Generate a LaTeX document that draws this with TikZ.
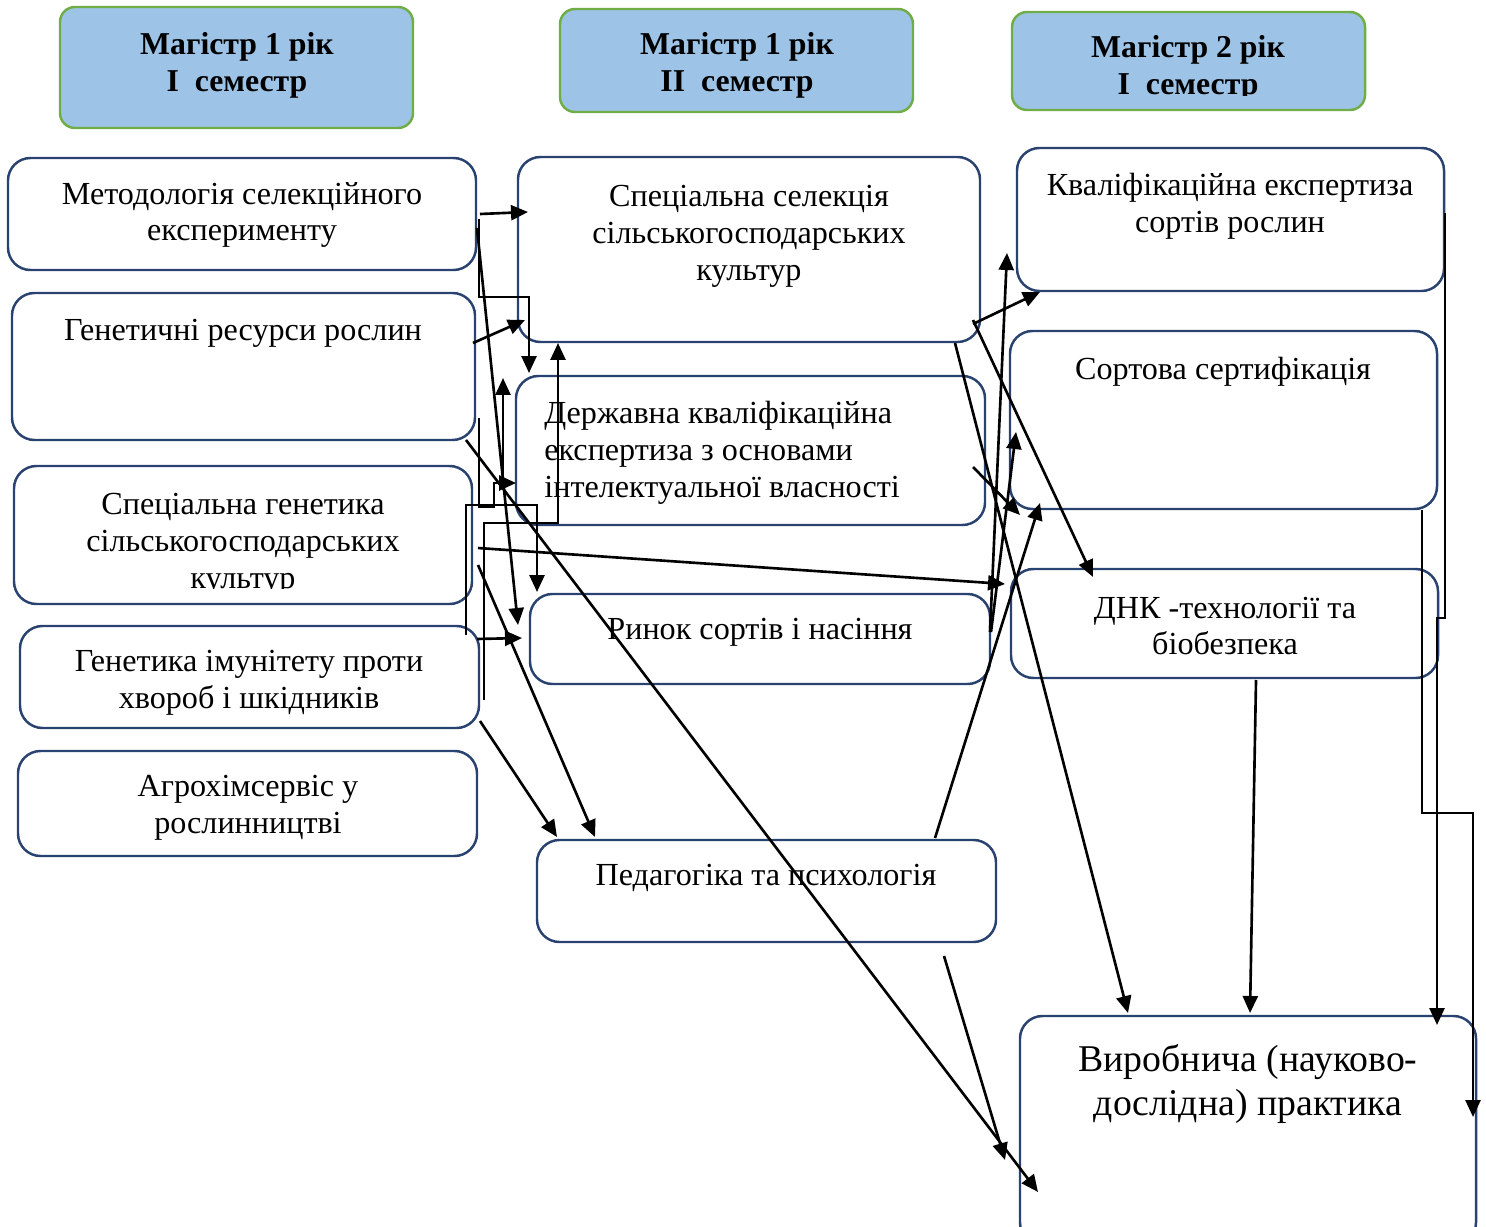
\documentclass[tikz,border=0pt]{standalone}
\usepackage{fontspec}
\setmainfont{Liberation Serif}
\usetikzlibrary{arrows.meta,fit}
\definecolor{boxblue}{RGB}{41,66,112}
\definecolor{hdrfill}{RGB}{157,195,230}
\definecolor{hdrline}{RGB}{112,173,71}
\tikzset{
 box/.style={draw=boxblue, line width=1.4pt, rounded corners=0.45cm, inner sep=0pt},
 hdr/.style={draw=hdrline, fill=hdrfill, line width=1.4pt, rounded corners=0.3cm, inner sep=0pt},
 txt/.style={font=\fontsize{18.3}{21}\selectfont, align=center, inner sep=0pt},
 bigtxt/.style={font=\fontsize{21.5}{25}\selectfont, align=center, inner sep=0pt},
 htxt/.style={font=\fontsize{18.1}{21}\selectfont\bfseries, align=center, inner sep=0pt},
 conn/.style={line width=1.5pt, -{Triangle[length=0.34cm,width=0.3cm]}},
}
\begin{document}
\begin{tikzpicture}[x=0.02cm,y=-0.02cm]
\useasboundingbox (0,0) rectangle (1486,1226);
% headers
\node[hdr, fit={(60,7) (413,128)}] (H1) {};
\node[hdr, fit={(560,9) (913,112)}] (H2) {};
\node[hdr, fit={(1012,12) (1365,110)}] (H3) {};
\node[htxt] (H1t) at (237,65) {Магістр 1 рік\\I\ \ семестр};
\node[htxt] (H2t) at (737,65) {Магістр 1 рік\\II\ \ семестр};
\begin{scope}
\clip (1012,12) rectangle (1365,96);
\node[htxt] (H3t) at (1188,68) {Магістр 2 рік\\I\ \ семестр};
\end{scope}
% column 1
\node[box, fit={(8,158) (476,270)}] (A1) {};
\node[box, fit={(12,293) (475,440)}] (A2) {};
\node[box, fit={(14,466) (472,604)}] (A3) {};
\node[box, fit={(20,626) (479,728)}] (A4) {};
\node[box, fit={(18,751) (477,856)}] (A5) {};
\node[txt] (A1t) at (242,215) {Методологія селекційного\\експерименту};
\node[txt] (A2t) at (243,333) {Генетичні ресурси рослин};
\begin{scope}
\clip (14,466) rectangle (472,588);
\node[txt] (A3t) at (243,544) {Спеціальна генетика\\сільськогосподарських\\культур};
\end{scope}
\node[txt] (A4t) at (249,683) {Генетика імунітету проти\\хвороб і шкідників};
\node[txt] (A5t) at (248,808) {Агрохімсервіс у\\рослинництві};
% column 2
\node[box, fit={(518,157) (980,342)}] (B1) {};
\node[box, fit={(516,376) (985,525)}] (B2) {};
\node[box, fit={(530,594) (990,684)}] (B3) {};
\node[box, fit={(537,840) (996,942)}] (B4) {};
\node[txt] (B1t) at (749,236) {Спеціальна селекція\\сільськогосподарських\\культур};
\node[txt, align=left, anchor=west] (B2t) at (544,453) {Державна кваліфікаційна\\експертиза з основами\\інтелектуальної власності};
\node[txt] (B3t) at (760,632) {Ринок сортів і насіння};
\node[txt] (B4t) at (766,878) {Педагогіка та психологія};
% column 3
\node[box, fit={(1017,148) (1444,291)}] (C1) {};
\node[box, fit={(1010,331) (1437,509)}] (C2) {};
\node[box, fit={(1011,569) (1438,678)}] (C3) {};
\node[box, fit={(1020,1016) (1476,1245)}] (C4) {};
\node[txt] (C1t) at (1230,206) {Кваліфікаційна експертиза\\сортів рослин};
\node[txt] (C2t) at (1223,372) {Сортова сертифікація};
\node[txt] (C3t) at (1225,626) {ДНК -технології та\\біобезпека};
\node[bigtxt] (C4t) at (1248,1084) {Виробнича (науково-\\дослідна) практика};
% connector end points
\coordinate (c1s) at (480,214);  \coordinate (c1e) at (528,212);
\coordinate (c2s) at (479,219);  \coordinate (c2e) at (529,373);
\coordinate (c3s) at (477,228);  \coordinate (c3e) at (518,625);
\coordinate (c4s) at (473,343);  \coordinate (c4e) at (525,320);
\coordinate (c5s) at (484,700);  \coordinate (c5e) at (558,343);
\coordinate (c6s) at (479,418);  \coordinate (c6e) at (516,483);
\coordinate (c7s) at (503,483);  \coordinate (c7e) at (503,378);
\coordinate (c8s) at (466,635);  \coordinate (c8e) at (537,592);
\coordinate (c9s) at (466,440);  \coordinate (c9e) at (1038,1192);
\coordinate (c10s) at (944,956); \coordinate (c10e) at (1005,1160);
\coordinate (c11s) at (955,343); \coordinate (c11e) at (1128,1013);
\coordinate (c12s) at (973,324); \coordinate (c12e) at (1040,292);
\coordinate (c13s) at (973,320); \coordinate (c13e) at (1093,577);
\coordinate (c14s) at (990,632); \coordinate (c14e) at (1007,253);
\coordinate (c15s) at (991,632); \coordinate (c15e) at (1016,432);
\coordinate (c16s) at (478,548); \coordinate (c16e) at (1005,584);
\coordinate (c17s) at (973,467); \coordinate (c17e) at (1020,515);
\coordinate (c18s) at (935,838); \coordinate (c18e) at (1040,503);
\coordinate (c19s) at (1445,213); \coordinate (c19e) at (1437,1025);
\coordinate (c20s) at (1422,510); \coordinate (c20e) at (1473,1117);
\coordinate (c21s) at (1256,680); \coordinate (c21e) at (1250,1013);
\coordinate (c22s) at (480,721); \coordinate (c22e) at (557,837);
\coordinate (c23s) at (478,565); \coordinate (c23e) at (595,837);
\coordinate (c24s) at (477,639); \coordinate (c24e) at (522,638);
% connectors
\draw[conn] (c1s) -- (c1e);
\draw[conn] (c2s) -- (479,297) -- (529,297) -- (c2e);
\draw[conn] (c3s) -- (c3e);
\draw[conn] (c4s) -- (c4e);
\draw[conn] (c5s) -- (484,523) -- (558,523) -- (c5e);
\draw[conn] (c6s) -- (479,507) -- (494,507) -- (494,483) -- (c6e);
\draw[conn] (c7s) -- (c7e);
\draw[conn] (c8s) -- (466,505) -- (537,505) -- (c8e);
\draw[conn] (c9s) -- (c9e);
\draw[conn] (c10s) -- (c10e);
\draw[conn] (c11s) -- (c11e);
\draw[conn] (c12s) -- (c12e);
\draw[conn] (c13s) -- (c13e);
\draw[conn] (c14s) -- (c14e);
\draw[conn] (c15s) -- (c15e);
\draw[conn] (c16s) -- (c16e);
\draw[conn] (c17s) -- (c17e);
\draw[conn] (c18s) -- (c18e);
\draw[conn] (c19s) -- (1445,618) -- (1437,618) -- (c19e);
\draw[conn] (c20s) -- (1422,813) -- (1473,813) -- (c20e);
\draw[conn] (c21s) -- (c21e);
\draw[conn] (c22s) -- (c22e);
\draw[conn] (c23s) -- (c23e);
\draw[conn] (c24s) -- (c24e);
\end{tikzpicture}
\end{document}
